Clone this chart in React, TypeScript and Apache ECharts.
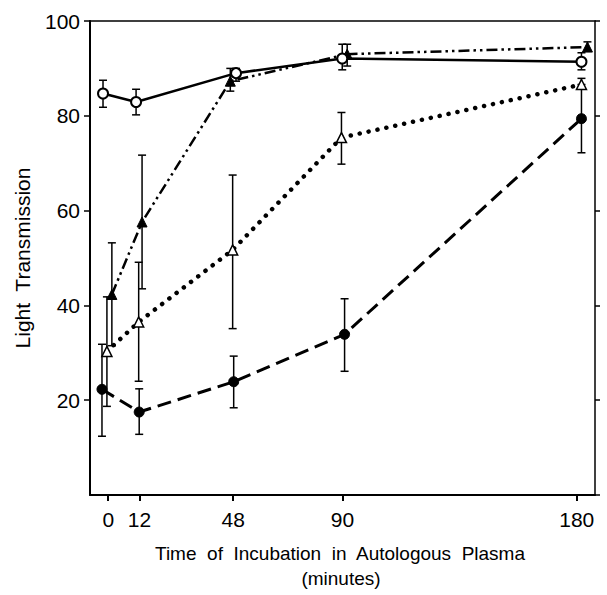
import React, { useEffect, useRef } from 'react';
import * as echarts from 'echarts';

const xTicks = [0, 12, 48, 90, 180];

// Open circles, solid line
const timeA = [-2.0, 10.7, 49.1, 89.9, 181.8];
const meanA = [84.7, 82.9, 89.0, 92.1, 91.4];
const lowA = [81.8, 80.2, 87.3, 89.7, 89.7];
const highA = [87.5, 85.6, 90.0, 95.1, 93.3];

// Filled triangles, dash-dot-dot line
const timeB = [1.4, 13.0, 46.9, 91.8, 184.1];
const meanB = [42.3, 57.6, 87.3, 93.0, 94.5];
const lowB = [31.5, 43.5, 85.2, 90.5, 93.7];
const highB = [53.2, 71.7, 90.0, 95.1, 95.6];

// Open triangles, dotted line
const timeC = [-0.5, 11.7, 47.8, 89.6, 181.8];
const meanC = [30.3, 36.5, 51.7, 75.4, 86.6];
const lowC = [18.7, 24.0, 35.1, 69.8, 85.7];
const highC = [41.8, 49.1, 67.5, 80.7, 87.9];

// Filled circles, dashed line
const timeD = [-2.4, 11.9, 48.2, 90.8, 181.8];
const meanD = [22.3, 17.5, 23.9, 33.9, 79.4];
const lowD = [12.4, 12.8, 18.4, 26.1, 72.2];
const highD = [31.8, 22.4, 29.3, 41.4, 86.6];

const FONT = 'Liberation Sans, Arial, Helvetica, sans-serif';

function pts(t: number[], v: number[]) {
  return t.map((x, i) => [x, v[i]]);
}
function bars(t: number[], lo: number[], hi: number[]) {
  return t.map((x, i) => [x, lo[i], hi[i]]);
}

function errorSeries(data: number[][]) {
  return {
    type: 'custom',
    xAxisIndex: 0,
    yAxisIndex: 0,
    z: 1,
    data,
    encode: { x: 0, y: [1, 2] },
    renderItem: (params: any, api: any) => {
      const x = api.value(0);
      const lo = api.coord([x, api.value(1)]);
      const hi = api.coord([x, api.value(2)]);
      const w = 4;
      const st = { stroke: '#000', lineWidth: 1.5 };
      return {
        type: 'group',
        children: [
          { type: 'line', shape: { x1: lo[0], y1: lo[1], x2: hi[0], y2: hi[1] }, style: st },
          { type: 'line', shape: { x1: lo[0] - w, y1: lo[1], x2: lo[0] + w, y2: lo[1] }, style: st },
          { type: 'line', shape: { x1: hi[0] - w, y1: hi[1], x2: hi[0] + w, y2: hi[1] }, style: st },
        ],
      };
    },
  };
}

export default function App() {
  const ref = useRef<HTMLDivElement>(null);
  useEffect(() => {
    if (!ref.current) return;
    const chart = echarts.init(ref.current, null, { renderer: 'svg' });
    const axisLineStyle = { color: '#000', width: 2 };
    chart.setOption({
      animation: false,
      backgroundColor: '#fff',
      grid: { left: 90, right: 12, top: 21, bottom: 100, containLabel: false },
      xAxis: [
        {
          type: 'value',
          position: 'bottom',
          min: -7,
          max: 187,
          axisLine: { show: true, onZero: false, lineStyle: axisLineStyle },
          axisTick: { show: true, customValues: xTicks, length: 6, lineStyle: { color: '#000', width: 2 } },
          axisLabel: { customValues: xTicks, fontSize: 21, color: '#000', margin: 14, fontFamily: FONT },
          splitLine: { show: false },
        },
        {
          type: 'value',
          position: 'top',
          min: -7,
          max: 187,
          axisLine: { show: true, onZero: false, lineStyle: { color: '#000', width: 1.5 } },
          axisTick: { show: false },
          axisLabel: { show: false },
          splitLine: { show: false },
        },
      ],
      yAxis: [
        {
          type: 'value',
          position: 'left',
          min: 0,
          max: 100,
          interval: 20,
          axisLine: { show: true, onZero: false, lineStyle: axisLineStyle },
          axisTick: { show: true, length: 6, lineStyle: { color: '#000', width: 1.5 } },
          axisLabel: { showMinLabel: false, fontSize: 21, color: '#000', margin: 10, fontFamily: FONT },
          splitLine: { show: false },
        },
        {
          type: 'value',
          position: 'right',
          min: 0,
          max: 100,
          interval: 20,
          axisLine: { show: true, onZero: false, lineStyle: { color: '#000', width: 1.5 } },
          axisTick: { show: true, length: 5, lineStyle: { color: '#000', width: 1.5 } },
          axisLabel: { show: false },
          splitLine: { show: false },
        },
      ],
      graphic: [
        {
          type: 'text',
          x: 22,
          y: 258,
          rotation: Math.PI / 2,
          style: {
            text: 'Light  Transmission',
            font: `21px ${FONT}`,
            fill: '#000',
            align: 'center',
            verticalAlign: 'middle',
          },
        },
        {
          type: 'text',
          x: 340,
          y: 553,
          style: {
            text: 'Time  of  Incubation  in  Autologous  Plasma',
            font: `19px ${FONT}`,
            fill: '#000',
            align: 'center',
            verticalAlign: 'middle',
          },
        },
        {
          type: 'text',
          x: 341,
          y: 578,
          style: {
            text: '(minutes)',
            font: `19px ${FONT}`,
            fill: '#000',
            align: 'center',
            verticalAlign: 'middle',
          },
        },
      ],
      series: [
        errorSeries(bars(timeA, lowA, highA)),
        errorSeries(bars(timeB, lowB, highB)),
        errorSeries(bars(timeC, lowC, highC)),
        errorSeries(bars(timeD, lowD, highD)),
        {
          type: 'line',
          z: 3,
          data: pts(timeD, meanD),
          symbol: 'circle',
          symbolSize: 10,
          itemStyle: { color: '#000', borderColor: '#000', borderWidth: 1 },
          lineStyle: { color: '#000', width: 3, type: [14, 7] },
        },
        {
          type: 'line',
          z: 3,
          data: pts(timeC, meanC),
          symbol: 'triangle',
          symbolSize: 10,
          itemStyle: { color: '#fff', borderColor: '#000', borderWidth: 1.5 },
          lineStyle: { color: '#000', width: 4.5, type: [0.1, 9], cap: 'round' },
        },
        {
          type: 'line',
          z: 3,
          data: pts(timeB, meanB),
          symbol: 'triangle',
          symbolSize: 10,
          itemStyle: { color: '#000', borderColor: '#000', borderWidth: 1 },
          lineStyle: { color: '#000', width: 2.5, type: [11, 4, 2.5, 4, 2.5, 4] },
        },
        {
          type: 'line',
          z: 4,
          data: pts(timeA, meanA),
          symbol: 'circle',
          symbolSize: 10,
          itemStyle: { color: '#fff', borderColor: '#000', borderWidth: 2 },
          lineStyle: { color: '#000', width: 2.5, type: 'solid' },
        },
      ],
    });
    return () => chart.dispose();
  }, []);
  return (
    <div
      ref={ref}
      style={{ position: 'absolute', left: 0, top: 0, width: 607, height: 595, background: '#fff' }}
    />
  );
}
